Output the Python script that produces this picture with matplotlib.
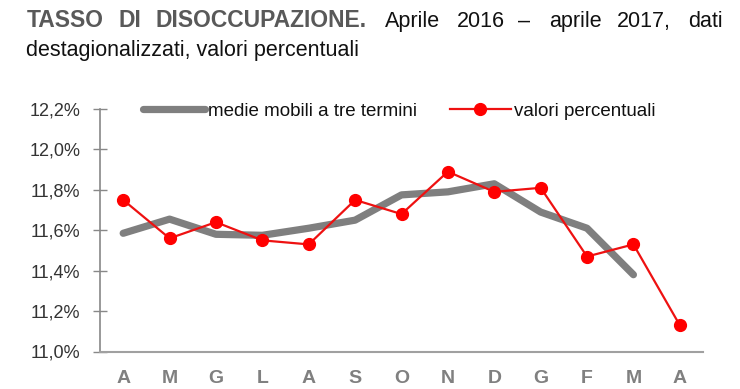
import matplotlib
matplotlib.use("Agg")
import matplotlib.pyplot as plt

months = ["A", "M", "G", "L", "A", "S", "O", "N", "D", "G", "F", "M", "A"]
valori = [11.75, 11.56, 11.64, 11.55, 11.53, 11.75, 11.68, 11.89, 11.79, 11.81, 11.47, 11.53, 11.13]
medie = [11.585, 11.655, 11.58, 11.575, 11.61, 11.65, 11.775, 11.79, 11.83, 11.69, 11.61, 11.38]
yticks = [11.0, 11.2, 11.4, 11.6, 11.8, 12.0, 12.2]
ytick_labels = ["11,0%", "11,2%", "11,4%", "11,6%", "11,8%", "12,0%", "12,2%"]

plt.rcParams["font.family"] = ["Liberation Sans", "DejaVu Sans"]

W, H = 740, 389
fig = plt.figure(figsize=(W / 100, H / 100), dpi=100)
ax = fig.add_axes([100 / W, 1 - 351.5 / H, (703 - 100) / W, (351.5 - 109) / H])

x = list(range(len(months)))
ax.plot(x[:len(medie)], medie, color="#7f7f7f", lw=5.2, solid_capstyle="round",
        solid_joinstyle="round", zorder=2, label="medie mobili a tre termini")
ax.plot(x, valori, color="#ee1111", lw=1.6, marker="o", markersize=8.5,
        markerfacecolor="#ff0000", markeredgecolor="#ff0000", zorder=3,
        label="valori percentuali")

ax.set_xlim(-0.5, 12.5)
ax.set_ylim(11.0, 12.2)
ax.set_yticks(yticks)
ax.set_yticklabels(ytick_labels, fontsize=13, color="#333333")
ax.set_xticks(x)
ax.set_xticklabels(months, fontsize=14, fontweight="bold", color="#808080")
ax.tick_params(axis="x", length=0, pad=13)
ax.tick_params(axis="y", direction="inout", length=10, width=1, color="#888888", pad=9)
for s in ["top", "right"]:
    ax.spines[s].set_visible(False)
ax.spines["left"].set_color("#888888")
ax.spines["bottom"].set_color("#a0a0a0")
ax.spines["left"].set_linewidth(1.2)
ax.spines["bottom"].set_linewidth(1.5)

leg = fig.legend(loc="center left", bbox_to_anchor=(143 / W, 1 - 111 / H),
                 ncol=2, frameon=False, fontsize=13.5, handlelength=3.3,
                 handletextpad=0.15, columnspacing=1.75, borderpad=0, borderaxespad=0)
for t in leg.get_texts():
    t.set_color("#111111")

# title, justified words
ty = 1 - 27 / H
fig.text(27 / W, ty, "TASSO", fontsize=16.5, fontweight="bold", color="#595959", va="baseline")
fig.text(118 / W, ty, "DI", fontsize=16.5, fontweight="bold", color="#595959", va="baseline")
fig.text(367 / W, ty, "DISOCCUPAZIONE.", fontsize=16.5, fontweight="bold", color="#595959",
         va="baseline", ha="right")
norm_words = [("Aprile", 385), ("2016", 457), ("–", 518), ("aprile", 549), ("2017,", 617)]
for w, px in norm_words:
    fig.text(px / W, ty, w, fontsize=15.5, color="#111111", va="baseline")
fig.text(723 / W, ty, "dati", fontsize=15.5, color="#111111", va="baseline", ha="right")
fig.text(26 / W, 1 - 56 / H, "destagionalizzati, valori percentuali", fontsize=15.5,
         color="#111111", va="baseline")

fig.savefig("out.png", dpi=100)
